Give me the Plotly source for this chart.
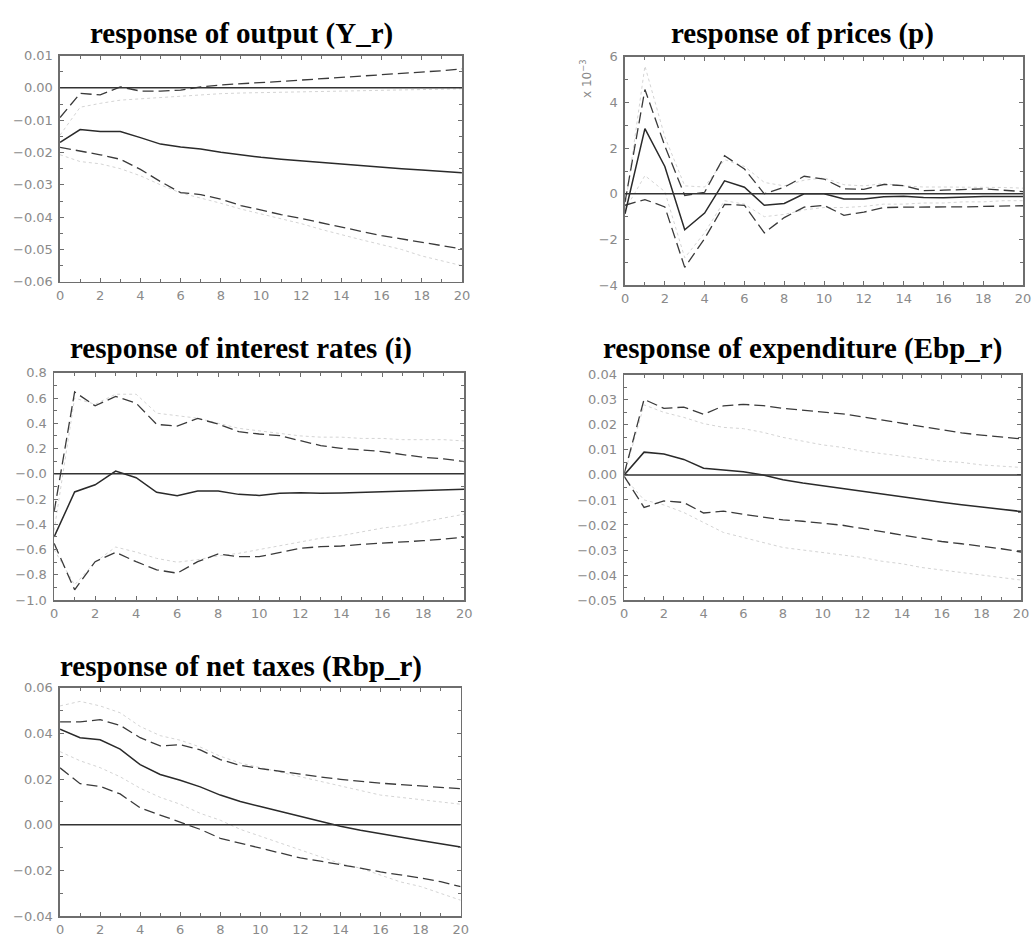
import plotly.graph_objects as go

W, H = 1036, 938
horizon = list(range(21))

# ---------------- data ----------------
output_irf = [-0.0169, -0.0129, -0.0135, -0.0135, -0.0154, -0.0174, -0.0183, -0.0189, -0.0199, -0.0208,
              -0.0215, -0.0221, -0.0226, -0.0232, -0.0237, -0.0242, -0.0246, -0.0250, -0.0254, -0.0258, -0.0263]
output_hi_dash = [-0.0092, -0.0017, -0.0022, 0.0003, -0.0010, -0.0010, -0.0007, 0.0003, 0.0009, 0.0012,
                  0.0016, 0.0020, 0.0024, 0.0028, 0.0032, 0.0036, 0.0040, 0.0045, 0.0049, 0.0053, 0.0059]
output_lo_dash = [-0.0184, -0.0195, -0.0207, -0.0221, -0.0252, -0.0290, -0.0324, -0.0330, -0.0344, -0.0364,
                  -0.0379, -0.0392, -0.0404, -0.0418, -0.0432, -0.0444, -0.0457, -0.0468, -0.0478, -0.0488, -0.0498]
output_hi_dot = [-0.0146, -0.0060, -0.0048, -0.0038, -0.0034, -0.0030, -0.0025, -0.0021, -0.0018, -0.0016,
                 -0.0015, -0.0013, -0.0012, -0.0010, -0.0009, -0.0008, -0.0007, -0.0006, -0.0005, -0.0004, -0.0003]
output_lo_dot = [-0.0207, -0.0228, -0.0235, -0.0250, -0.0272, -0.0300, -0.0325, -0.0340, -0.0357, -0.0375,
                 -0.0390, -0.0405, -0.0420, -0.0438, -0.0455, -0.0470, -0.0485, -0.0500, -0.0520, -0.0535, -0.0550]

# prices, in units of 10^-3
prices_irf = [-0.87, 2.86, 1.20, -1.57, -0.84, 0.57, 0.29, -0.50, -0.42, 0.00,
              0.00, -0.22, -0.23, -0.13, -0.10, -0.16, -0.17, -0.13, -0.12, -0.12, -0.12]
prices_hi_dash = [-0.36, 4.57, 2.10, -0.07, 0.07, 1.67, 1.09, 0.00, 0.29, 0.77,
                  0.65, 0.22, 0.20, 0.41, 0.36, 0.14, 0.16, 0.20, 0.22, 0.16, 0.10]
prices_lo_dash = [-0.50, -0.25, -0.57, -3.22, -1.96, -0.46, -0.50, -1.71, -1.04, -0.58,
                  -0.50, -0.94, -0.80, -0.60, -0.58, -0.58, -0.60, -0.57, -0.55, -0.52, -0.52]
prices_hi_dot = [-0.60, 5.60, 2.50, 0.35, 0.30, 1.50, 1.20, 0.50, 0.35, 0.60,
                 0.70, 0.40, 0.35, 0.45, 0.35, 0.30, 0.30, 0.30, 0.30, 0.28, 0.25]
prices_lo_dot = [-0.70, 0.80, 0.10, -2.80, -1.70, -0.30, -0.45, -1.00, -0.90, -0.70,
                 -0.60, -0.60, -0.55, -0.45, -0.45, -0.40, -0.40, -0.35, -0.35, -0.30, -0.30]

rates_irf = [-0.500, -0.144, -0.087, 0.021, -0.031, -0.147, -0.173, -0.136, -0.136, -0.163,
             -0.171, -0.155, -0.150, -0.155, -0.152, -0.147, -0.142, -0.139, -0.136, -0.131, -0.123]
rates_hi_dash = [-0.300, 0.648, 0.538, 0.612, 0.559, 0.391, 0.378, 0.438, 0.394, 0.333,
                 0.315, 0.302, 0.262, 0.223, 0.202, 0.189, 0.176, 0.152, 0.131, 0.118, 0.097]
rates_lo_dash = [-0.551, -0.919, -0.696, -0.622, -0.696, -0.761, -0.787, -0.696, -0.635, -0.656,
                 -0.656, -0.622, -0.590, -0.577, -0.572, -0.559, -0.551, -0.538, -0.530, -0.517, -0.501]
rates_hi_dot = [-0.45, 0.60, 0.55, 0.63, 0.63, 0.48, 0.46, 0.44, 0.40, 0.36,
                0.34, 0.32, 0.30, 0.29, 0.29, 0.28, 0.28, 0.27, 0.27, 0.27, 0.26]
rates_lo_dot = [-0.60, -0.88, -0.70, -0.58, -0.62, -0.67, -0.70, -0.68, -0.65, -0.63,
                -0.60, -0.57, -0.54, -0.51, -0.49, -0.46, -0.43, -0.41, -0.38, -0.35, -0.32]

spend_irf = [0.0000, 0.0091, 0.0084, 0.0062, 0.0027, 0.0019, 0.0013, 0.0000, -0.0019, -0.0032,
             -0.0043, -0.0054, -0.0067, -0.0078, -0.0088, -0.0098, -0.0109, -0.0119, -0.0128, -0.0137, -0.0146]
spend_hi_dash = [0.0006, 0.0302, 0.0266, 0.0271, 0.0242, 0.0276, 0.0282, 0.0277, 0.0266, 0.0258,
                 0.0253, 0.0244, 0.0232, 0.0219, 0.0206, 0.0193, 0.0180, 0.0168, 0.0159, 0.0152, 0.0144]
spend_lo_dash = [-0.0006, -0.0130, -0.0104, -0.0110, -0.0152, -0.0145, -0.0157, -0.0167, -0.0180, -0.0185,
                 -0.0192, -0.0201, -0.0214, -0.0227, -0.0240, -0.0253, -0.0266, -0.0275, -0.0284, -0.0295, -0.0308]
spend_hi_dot = [0.0000, 0.0280, 0.0250, 0.0230, 0.0205, 0.0190, 0.0185, 0.0170, 0.0150, 0.0135,
                0.0120, 0.0110, 0.0095, 0.0085, 0.0075, 0.0065, 0.0055, 0.0050, 0.0040, 0.0035, 0.0030]
spend_lo_dot = [-0.0010, -0.0100, -0.0120, -0.0150, -0.0190, -0.0230, -0.0250, -0.0270, -0.0290, -0.0300,
                -0.0310, -0.0320, -0.0330, -0.0345, -0.0355, -0.0370, -0.0380, -0.0390, -0.0400, -0.0410, -0.0420]

taxes_irf = [0.0418, 0.0381, 0.0372, 0.0331, 0.0263, 0.0220, 0.0195, 0.0166, 0.0130, 0.0102,
             0.0080, 0.0059, 0.0036, 0.0014, -0.0006, -0.0024, -0.0040, -0.0054, -0.0069, -0.0083, -0.0097]
taxes_hi_dash = [0.0450, 0.0450, 0.0460, 0.0435, 0.0381, 0.0345, 0.0350, 0.0328, 0.0285, 0.0260,
                 0.0246, 0.0233, 0.0220, 0.0209, 0.0199, 0.0190, 0.0182, 0.0176, 0.0170, 0.0165, 0.0158]
taxes_lo_dash = [0.0249, 0.0180, 0.0168, 0.0135, 0.0074, 0.0042, 0.0013, -0.0020, -0.0059, -0.0080,
                 -0.0102, -0.0123, -0.0145, -0.0159, -0.0173, -0.0190, -0.0206, -0.0219, -0.0233, -0.0249, -0.0271]
taxes_hi_dot = [0.052, 0.054, 0.052, 0.049, 0.043, 0.039, 0.037, 0.034, 0.030, 0.027,
                0.025, 0.023, 0.021, 0.019, 0.017, 0.015, 0.013, 0.012, 0.011, 0.010, 0.009]
taxes_lo_dot = [0.032, 0.028, 0.025, 0.021, 0.016, 0.012, 0.009, 0.005, 0.002, -0.002,
                -0.005, -0.008, -0.011, -0.014, -0.017, -0.019, -0.022, -0.025, -0.027, -0.030, -0.033]

titles = ["response of output (Y_r)", "response of prices (p)", "response of interest rates (i)",
          "response of expenditure (Ebp_r)", "response of net taxes (Rbp_r)"]

x_ticks = [0, 2, 4, 6, 8, 10, 12, 14, 16, 18, 20]

output_yticks = [0.01, 0.00, -0.01, -0.02, -0.03, -0.04, -0.05, -0.06]
prices_yticks = [6, 4, 2, 0, -2, -4]
rates_yticks = [0.8, 0.6, 0.4, 0.2, 0.0, -0.2, -0.4, -0.6, -0.8, -1.0]
rates_yticktext = ["0.8", "0.6", "0.4", "0.2", "\u22120.0", "\u22120.2", "\u22120.4", "\u22120.6", "\u22120.8", "\u22121.0"]
spend_yticks = [0.04, 0.03, 0.02, 0.01, 0.00, -0.01, -0.02, -0.03, -0.04, -0.05]
taxes_yticks = [0.06, 0.04, 0.02, 0.00, -0.02, -0.04]

# ---------------- layout geometry (pixels) ----------------
panels = [
    dict(series=(output_irf, output_hi_dash, output_lo_dash, output_hi_dot, output_lo_dot),
         box=(56.7, 463.3, 49.3, 279.3), yr=(-0.06, 0.01), yt=output_yticks, ytt=None, fmt=".2f",
         ydt_minor=0.005, title_xy=(240, 27)),
    dict(series=(prices_irf, prices_hi_dash, prices_lo_dash, prices_hi_dot, prices_lo_dot),
         box=(628.3, 1031, 50.7, 282.7), yr=(-4, 6), yt=prices_yticks, ytt=None, fmt="d",
         ydt_minor=1, title_xy=(808, 27)),
    dict(series=(rates_irf, rates_hi_dash, rates_lo_dash, rates_hi_dot, rates_lo_dot),
         box=(50.7, 465.7, 371.7, 602.7), yr=(-1.0, 0.8), yt=rates_yticks, ytt=rates_yticktext, fmt=".1f",
         ydt_minor=0.1, title_xy=(240, 347)),
    dict(series=(spend_irf, spend_hi_dash, spend_lo_dash, spend_hi_dot, spend_lo_dot),
         box=(627.5, 1029, 373.8, 602.7), yr=(-0.05, 0.04), yt=spend_yticks, ytt=None, fmt=".2f",
         ydt_minor=0.005, title_xy=(808, 347)),
    dict(series=(taxes_irf, taxes_hi_dash, taxes_lo_dash, taxes_hi_dot, taxes_lo_dot),
         box=(56.7, 462, 691.7, 924), yr=(-0.04, 0.06), yt=taxes_yticks, ytt=None, fmt=".2f",
         ydt_minor=0.01, title_xy=(240, 670)),
]


def px(x):
    return x / W


def py(y):
    return 1 - y / H


FRAME = "#6e6e6e"
TICKFONT = dict(family="DejaVu Sans", size=13, color="#8a8a8a")
TITLEFONT = dict(family="Liberation Serif", size=29, color="#000000")

fig = go.Figure()
layout = dict(width=W, height=H, margin=dict(l=0, r=0, t=0, b=0, pad=0),
              paper_bgcolor="white", plot_bgcolor="white", showlegend=False)
annotations = []
shapes = []

for i, p in enumerate(panels, start=1):
    sfx = "" if i == 1 else str(i)
    xa, ya = "x" + sfx, "y" + sfx
    mid, hi_d, lo_d, hi_o, lo_o = p["series"]
    for ys, color, dash, width in [(hi_o, "#d4d4d4", "dot", 1.0), (lo_o, "#d4d4d4", "dot", 1.0),
                                   (hi_d, "#3a3a3a", "11px,5px", 1.3), (lo_d, "#3a3a3a", "11px,5px", 1.3),
                                   (mid, "#2a2a2a", "solid", 1.5)]:
        fig.add_trace(go.Scatter(x=horizon, y=ys, mode="lines", xaxis=xa, yaxis=ya,
                                 line=dict(color=color, dash=dash, width=width), hoverinfo="skip"))
    x0, x1, y0, y1 = p["box"]
    layout["xaxis" + sfx] = dict(
        domain=[px(x0), px(x1)], anchor=ya, range=[0, 20], tickvals=x_ticks,
        ticks="inside", ticklen=4, tickcolor=FRAME, tickwidth=1,
        minor=dict(dtick=1, tick0=0, ticks="inside", ticklen=3, tickcolor=FRAME),
        showline=True, linecolor=FRAME, linewidth=1.6, mirror="allticks",
        showgrid=False, zeroline=False, tickfont=TICKFONT, ticklabelstandoff=1)
    yax = dict(
        domain=[py(y1), py(y0)], anchor=xa, range=list(p["yr"]), tickvals=p["yt"],
        ticks="inside", ticklen=4, tickcolor=FRAME, tickwidth=1,
        minor=dict(dtick=p["ydt_minor"], tick0=0, ticks="inside", ticklen=3, tickcolor=FRAME),
        showline=True, linecolor=FRAME, linewidth=1.6, mirror="allticks",
        showgrid=False, zeroline=False, tickfont=TICKFONT, ticklabelstandoff=3)
    if p["ytt"] is not None:
        yax["ticktext"] = p["ytt"]
    else:
        yax["tickformat"] = p["fmt"]
    layout["yaxis" + sfx] = yax
    shapes.append(dict(type="line", xref=xa + " domain", yref=ya, x0=0, x1=1, y0=0, y1=0,
                       line=dict(color="#333333", width=1.5), layer="above"))
    tx, ty = p["title_xy"]
    annotations.append(dict(text="<b>%s</b>" % titles[i - 1], x=px(tx), y=py(ty),
                            xref="paper", yref="paper", xanchor="center", yanchor="middle",
                            showarrow=False, font=TITLEFONT))

annotations.append(dict(text="x 10<sup>\u22123</sup>", x=px(589), y=py(73), xref="paper", yref="paper",
                        xanchor="center", yanchor="middle", textangle=-90, showarrow=False,
                        font=dict(family="DejaVu Sans", size=12, color="#8a8a8a")))

layout["annotations"] = annotations
layout["shapes"] = shapes
fig.update_layout(**layout)
# place the figure flush with the window's top-left corner; no toolbar
fig.write_html("out.html", config={"displayModeBar": False, "staticPlot": True},
               post_script="document.body.style.margin='0';document.body.style.overflow='hidden';")
